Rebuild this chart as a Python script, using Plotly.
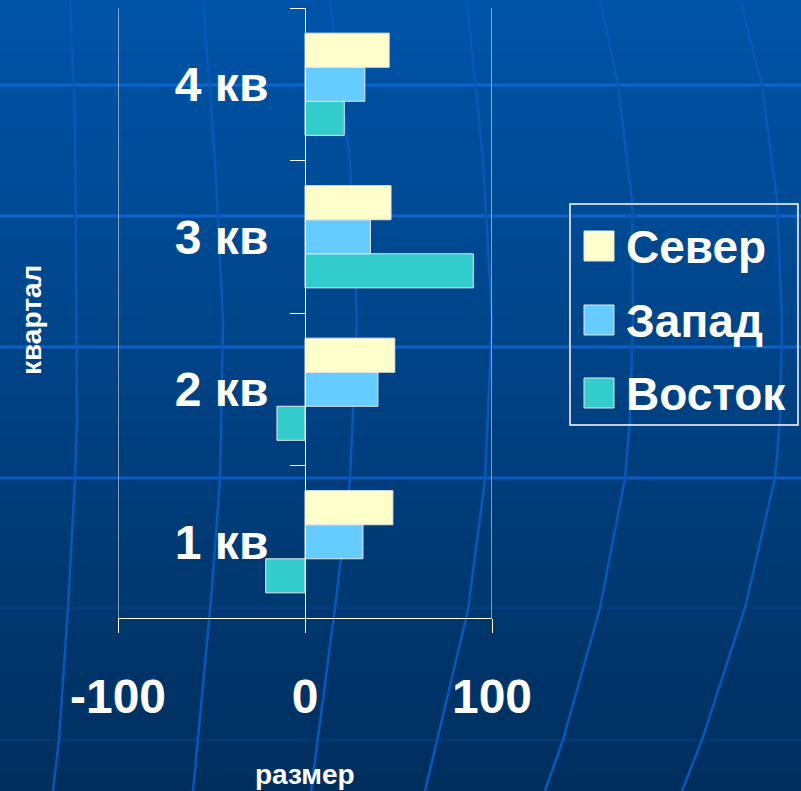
import plotly.graph_objects as go

# ---------------- data ----------------
categories = ["1 кв", "2 кв", "3 кв", "4 кв"]
sever = [47, 48, 46, 45]
zapad = [31, 39, 35, 32]
vostok = [-21, -15, 90, 21]
series_names = ["Север", "Запад", "Восток"]
series_colors = ["#FFFFCC", "#66CCFF", "#33CCCC"]
x_ticks = [-100, 0, 100]
x_title = "размер"
y_title = "квартал"

# ---------------- geometry helpers ----------------
W, H = 801, 791
L, R, T, B = 118, 492, 8, 618  # plot area in pixels


def px(xp):
    return (xp - L) / (R - L)


def py(yp):
    return (B - yp) / (B - T)


FONT = "Liberation Sans, Arial, sans-serif"

fig = go.Figure()
values = {"Север": sever, "Запад": zapad, "Восток": vostok}
# plotly draws grouped horizontal bars bottom-up, so add in reverse order
for name, color in list(zip(series_names, series_colors))[::-1]:
    fig.add_trace(go.Bar(
        y=categories, x=values[name], name=name, orientation="h",
        marker=dict(color=color, line=dict(color="#E6E6E6", width=1)),
        showlegend=False,
    ))

shapes = []
# background gradient stripes
top_c = (0, 84, 168)
bot_c = (0, 47, 94)
n = 60
for i in range(n):
    t = i / (n - 1)
    c = tuple(round(top_c[k] + (bot_c[k] - top_c[k]) * t) for k in range(3))
    y0 = i * H / n
    y1 = (i + 1) * H / n + 1
    shapes.append(dict(type="rect", xref="paper", yref="paper", layer="below",
                       x0=px(-2), x1=px(W + 2), y0=py(y1), y1=py(y0),
                       fillcolor="rgb(%d,%d,%d)" % c, line=dict(width=0)))

# decorative background grid
for yy, col in [(85, "#0A66D2"), (216, "#0A64CE"), (347, "#0A60C8"), (478, "#0A5CC2"),
                (608, "#013C7E"), (740, "#023A74")]:
    shapes.append(dict(type="line", xref="paper", yref="paper", layer="below",
                       x0=px(0), x1=px(W), y0=py(yy), y1=py(yy),
                       line=dict(color=col, width=3)))

curves = [
    [(70, 0), (75, 120), (77, 420), (75, 478), (68, 608), (59, 740), (53, 791)],
    [(203, 0), (215, 160), (223, 320), (220, 480), (211, 600), (193, 791)],
    [(330, 0), (350, 160), (357, 320), (350, 480), (336, 600), (311, 791)],
    [(467, 0), (483, 160), (492, 320), (485, 480), (468, 610), (425, 791)],
    [(600, 0), (618, 85), (632, 200), (633, 320), (630, 420), (625, 478), (600, 608), (563, 740), (545, 791)],
    [(740, 0), (762, 85), (777, 200), (782, 320), (780, 420), (775, 478), (745, 608), (702, 740), (682, 791)],
]
for pts in curves:
    path = "M " + " L ".join("%.5f,%.5f" % (px(a), py(b)) for a, b in pts)
    shapes.append(dict(type="path", xref="paper", yref="paper", layer="below",
                       path=path, line=dict(color="#0758B8", width=2.5)))

# plot frame verticals at -100 and 100
for xv in (x_ticks[0], x_ticks[-1]):
    shapes.append(dict(type="line", xref="x", yref="paper", layer="above",
                       x0=xv, x1=xv, y0=0, y1=1, line=dict(color="white", width=1)))

# custom legend
lx0, lx1, ly0, ly1 = 570, 798, 204, 425
shapes.append(dict(type="rect", xref="paper", yref="paper",
                   x0=px(lx0), x1=px(lx1), y0=py(ly1), y1=py(ly0),
                   line=dict(color="white", width=1.5), fillcolor="rgba(0,0,0,0)"))
annotations = []
row_centers = [246, 320, 393]
for name, color, yc in zip(series_names, series_colors, row_centers):
    shapes.append(dict(type="rect", xref="paper", yref="paper",
                       x0=px(584), x1=px(614), y0=py(yc + 15), y1=py(yc - 15),
                       fillcolor=color, line=dict(color="#E6E6E6", width=1)))
    annotations.append(dict(xref="paper", yref="paper", x=px(624), y=py(yc + 1),
                            xanchor="left", yanchor="middle", text=name, showarrow=False,
                            font=dict(family=FONT, size=46, color="white", weight="bold")))

annotations.append(dict(xref="paper", yref="paper", x=px(305), y=py(774),
                        xanchor="center", yanchor="middle", text=x_title, showarrow=False,
                        font=dict(family=FONT, size=28, color="white", weight="bold")))
annotations.append(dict(xref="paper", yref="paper", x=px(31), y=py(320),
                        xanchor="center", yanchor="middle", text=y_title, showarrow=False,
                        textangle=-90,
                        font=dict(family=FONT, size=28, color="white", weight="bold")))

fig.update_layout(
    width=W, height=H,
    margin=dict(l=L, r=W - R, t=T, b=H - B, autoexpand=False),
    paper_bgcolor="rgb(0,47,94)",
    plot_bgcolor="rgba(0,0,0,0)",
    barmode="group", bargap=0.33, bargroupgap=0,
    showlegend=False,
    shapes=shapes, annotations=annotations,
    font=dict(family=FONT, color="white"),
    xaxis=dict(range=[-100, 100], tickvals=x_ticks, ticktext=[str(v) for v in x_ticks],
               showgrid=False, zeroline=False, showline=True, linecolor="white", linewidth=1,
               ticks="outside", ticklen=14, tickcolor="white", tickwidth=1,
               tickfont=dict(family=FONT, size=48, color="white", weight="bold"),
               ticklabelstandoff=22, fixedrange=True, automargin=False),
    yaxis=dict(type="category", categoryorder="array", categoryarray=categories,
               anchor="free", position=px(305), side="left",
               showgrid=False, zeroline=False, showline=True, linecolor="white", linewidth=1,
               ticks="outside", ticklen=15, tickcolor="white", tickwidth=1, tickson="boundaries",
               tickfont=dict(family=FONT, size=48, color="white", weight="bold"),
               ticklabelstandoff=27, fixedrange=True, automargin=False),
)

fig.write_html(
    "out.html",
    config={"displayModeBar": False},
    post_script="document.body.style.margin='0';document.body.style.padding='0';"
                "document.body.style.overflow='hidden';",
)
